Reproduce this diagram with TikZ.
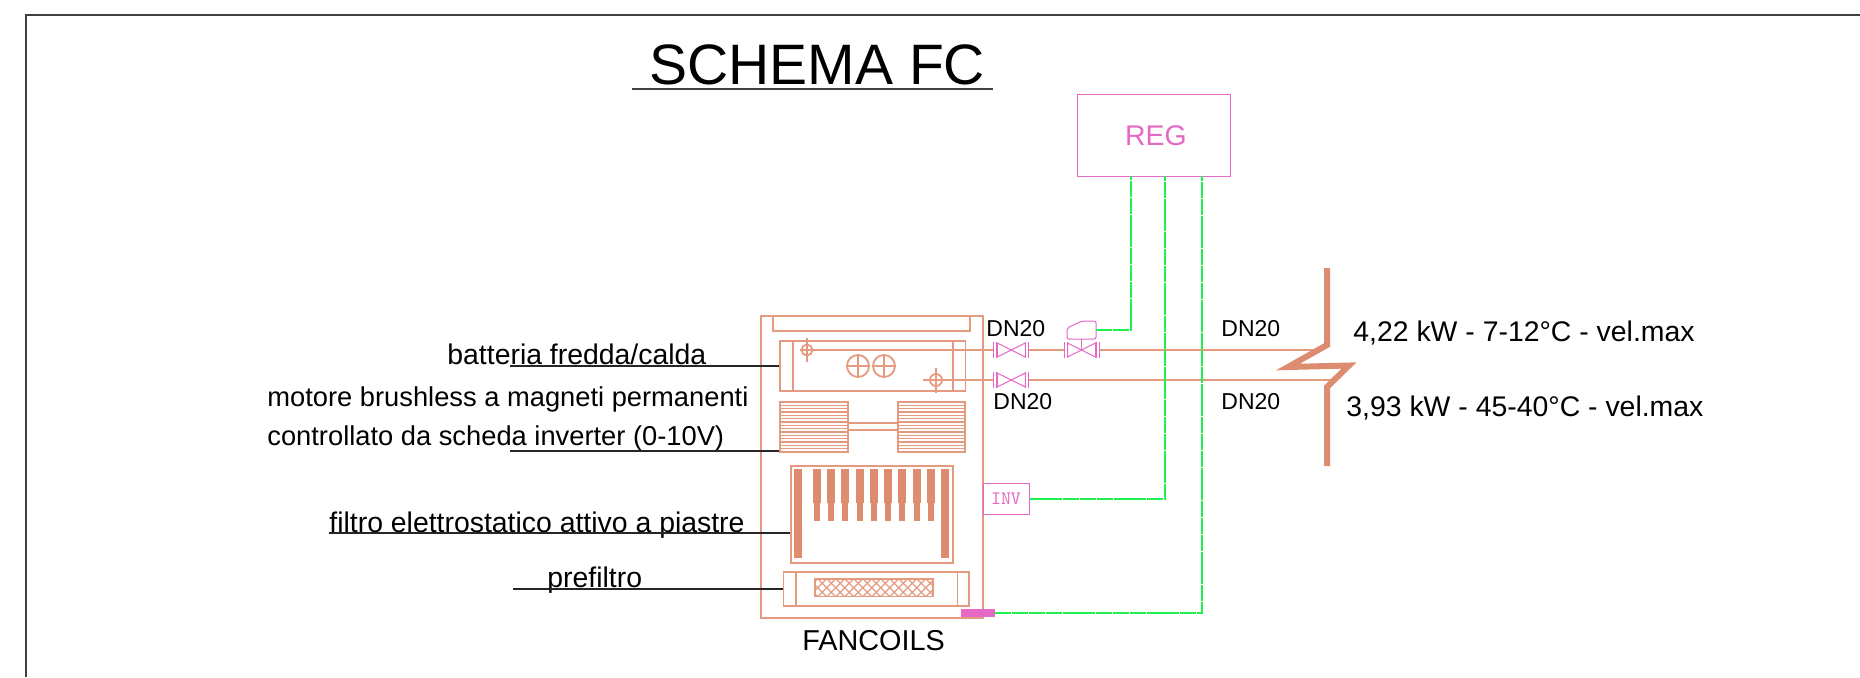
\documentclass[tikz,border=0pt]{standalone}
\usepackage{fontspec}
\setmainfont{Liberation Sans}
\usepackage{xcolor}
\usetikzlibrary{positioning,calc}
\definecolor{fcline}{HTML}{E59A80}
\definecolor{fcfill}{HTML}{DE8C70}
\definecolor{regpink}{HTML}{E468C4}
\definecolor{siggreen}{HTML}{1EF04E}
\tikzset{
    pipe/.style={draw=fcline, line width=0.9pt},
    boxfc/.style={draw=fcline, line width=0.9pt, inner sep=0pt, rectangle},
    boxreg/.style={draw=regpink, line width=0.5pt, inner sep=0pt, rectangle, text=regpink},
    sig/.style={draw=siggreen, line width=0.55pt, dash pattern=on 8pt off 0.4pt},
    leader/.style={draw=black!85, line width=0.6pt},
    lab/.style={anchor=base west, inner sep=0pt, font=\fontsize{14.2}{17}\selectfont},
    labmot/.style={anchor=base west, inner sep=0pt, font=\fontsize{13.65}{16}\selectfont},
    dnlab/.style={anchor=base west, inner sep=0pt, font=\fontsize{11.5}{14}\selectfont},
    valvebox/.style={inner sep=0pt, minimum width=17.5pt, minimum height=7pt}
}
\begin{document}
\begin{tikzpicture}[x=0.5pt, y=-0.5pt]
    \useasboundingbox (0,0) rectangle (1860,677);
    % sheet frame and title
    \draw [line width=0.9pt, black!75] (1860,15) -- (26,15) -- (26,677);
    \node [anchor=base west, inner sep=0pt, font=\fontsize{28.5}{34}\selectfont] (title) at (649,84) {SCHEMA FC};
    \draw [line width=0.9pt, black!75] (632,89) -- (993,89);

    % fancoil body
    \node [boxfc, minimum width=111pt, minimum height=151pt] (fc) at (872,467) {};
    \node [boxfc, minimum width=98.5pt, minimum height=7.5pt] (top) at (871.5,323.5) {};
    \node [anchor=base west, inner sep=0pt, font=\fontsize{14.4}{17}\selectfont] (fclab) at (802,650) {FANCOILS};

    % batteria
    \node [boxfc, minimum width=92.75pt, minimum height=25pt] (batt) at (872.75,366) {};
    \draw [pipe] (793,341) -- (793,391);
    \draw [pipe] (953,341) -- (953,391);
    \foreach \cx/\cy/\cr in {807/350/5.5, 936/380/6, 858/366/11, 884/366/11} {
        \draw [pipe] (\cx,\cy) circle [radius=\cr];
    }
    \draw [pipe] (807,338) -- (807,362);
    \draw [pipe] (936,368) -- (936,393);
    \draw [pipe] (847,366) -- (869,366);
    \draw [pipe] (858,355) -- (858,377);
    \draw [pipe] (873,366) -- (895,366);
    \draw [pipe] (884,355) -- (884,377);

    % motore
    \node [boxfc, minimum width=34pt, minimum height=25pt] (fanl) at (814,427) {};
    \node [boxfc, minimum width=33.5pt, minimum height=25pt] (fanr) at (931.5,427) {};
    \foreach \i in {1,...,14} {
        \draw [pipe, line width=0.55pt] (780,{402+\i*3.33}) -- (848,{402+\i*3.33});
        \draw [pipe, line width=0.55pt] (898,{402+\i*3.33}) -- (965,{402+\i*3.33});
    }
    \draw [pipe] (fanl.east |- 0,423) -- (fanr.west |- 0,423);
    \draw [pipe] (fanl.east |- 0,430) -- (fanr.west |- 0,430);

    % filtro
    \node [boxfc, minimum width=81pt, minimum height=48.5pt] (filt) at (872,514.5) {};
    \fill [fcfill] (794,469) rectangle (801.5,558);
    \fill [fcfill] (941,469) rectangle (949,558);
    \foreach \bx in {817,831,845,860,874,888,902,917,931} {
        \fill [fcfill] (\bx-3.8,469) rectangle (\bx+3.8,503);
        \fill [fcfill] (\bx-3,503) rectangle (\bx+3,521);
    }

    % prefiltro
    \node [boxfc, minimum width=92.75pt, minimum height=17pt] (pref) at (876.25,589) {};
    \draw [pipe] (796,572) -- (796,606);
    \draw [pipe] (957.5,572) -- (957.5,606);
    \node [boxfc, minimum width=59pt, minimum height=8.75pt] (mesh) at (874,587.75) {};
    \begin{scope}
        \clip (815,579) rectangle (933,596.5);
        \foreach \hx in {800,809,...,940} {
            \draw [pipe, line width=0.6pt] (\hx,579) -- (\hx+17.5,596.5);
            \draw [pipe, line width=0.6pt] (\hx+17.5,579) -- (\hx,596.5);
        }
    \end{scope}

    % valvole
    \foreach \vn/\vx/\vy in {vfr/1011.25/350, vcal/1011.25/380, vreg/1081.5/350} {
        \node [valvebox] (\vn) at (\vx,\vy) {};
        \draw [boxreg] (\vx-17.5,\vy-8) -- (\vx-17.5,\vy+8);
        \draw [boxreg] (\vx-14.5,\vy-8) -- (\vx-14.5,\vy+8);
        \draw [boxreg] (\vx+14.5,\vy-8) -- (\vx+14.5,\vy+8);
        \draw [boxreg] (\vx+17.5,\vy-8) -- (\vx+17.5,\vy+8);
        \draw [boxreg] (\vx-14,\vy-7) -- (\vx+14,\vy+7) -- (\vx+14,\vy-7) -- (\vx-14,\vy+7) -- cycle;
    }
    \draw [boxreg] (1081.5,339) -- (1081.5,350);
    \draw [boxreg, rounded corners=1pt] (1067,339) -- (1067,328) -- (1082,321) -- (1096,321) -- (1096,339) -- cycle;
    \coordinate (act) at (1096,330);

    % tubazioni
    \coordinate (p1a) at (800,350);
    \coordinate (p1b) at (1313,350);
    \coordinate (p2a) at (923,380);
    \coordinate (p2b) at (1335,380);
    \draw [pipe] (p1a) -- (vfr.west);
    \draw [pipe] (vfr.east) -- (vreg.west);
    \draw [pipe] (vreg.east) -- (p1b);
    \draw [pipe] (p2a) -- (vcal.west);
    \draw [pipe] (vcal.east) -- (p2b);
    \draw [draw=fcfill, line width=3pt, miter limit=10] (1327,268) -- (1327,345) -- (1288,367) -- (1349,365.5) -- (1327,387) -- (1327,466);

    % regolazione
    \node [boxreg, minimum width=76.5pt, minimum height=41pt] (reg) at (1153.5,135) {};
    \node [anchor=base, inner sep=0pt, text=regpink, font=\fontsize{14.2}{17}\selectfont] (regtxt) at (1156,145) {REG};
    \node [boxreg, minimum width=23pt, minimum height=15.5pt, font=\ttfamily\fontsize{9.5}{11}\selectfont] (inv) at (1006,499) {INV};
    \node [fill=regpink, inner sep=0pt, minimum width=17pt, minimum height=4pt] (bus) at (978,613) {};
    \coordinate (rega) at (1131,176);
    \coordinate (regb) at (1165,176);
    \coordinate (regc) at (1202,176);
    \draw [sig] (act) -| (rega);
    \draw [sig] (inv.east) -| (regb);
    \draw [sig] (bus.east) -| (regc);

    % didascalie
    \node [lab] (lbatt) at (447,364) {batteria fredda/calda};
    \node [labmot] (lmot) at (267,406) {motore brushless a magneti permanenti};
    \node [labmot] (lctr) at (267,445) {controllato da scheda inverter (0-10V)};
    \node [lab] (lfil) at (329,532) {filtro elettrostatico attivo a piastre};
    \node [lab] (lpre) at (547,587) {prefiltro};
    \coordinate (lb) at (510,366);
    \coordinate (lm) at (510,451);
    \coordinate (lf) at (329,533);
    \coordinate (lp) at (513,589);
    \draw [leader] (lb) -- (batt.west);
    \draw [leader] (lm) -- (fanl.south west |- lm);
    \draw [leader] (lf) -- (filt.west |- lf);
    \draw [leader] (lp) -- (pref.west);

    \node [dnlab] (dn1) at (986,336) {DN20};
    \node [dnlab] (dn2) at (993,409) {DN20};
    \node [dnlab] (dn3) at (1221,336) {DN20};
    \node [dnlab] (dn4) at (1221,409) {DN20};
    \node [lab] (pfr) at (1353,341) {4,22 kW - 7-12°C - vel.max};
    \node [lab] (pcal) at (1346,416) {3,93 kW - 45-40°C - vel.max};
\end{tikzpicture}
\end{document}
